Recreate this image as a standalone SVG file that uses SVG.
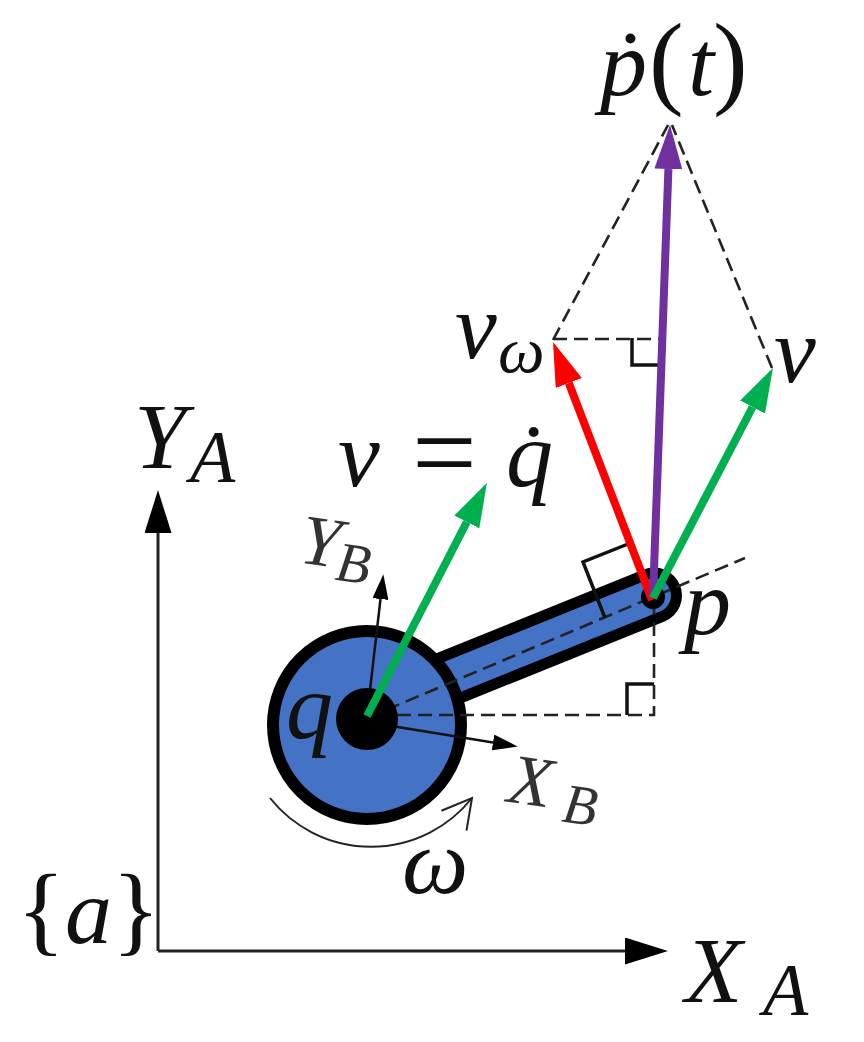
<svg xmlns="http://www.w3.org/2000/svg" width="864" height="1042" viewBox="0 0 864 1042">
<style>
text{font-family:"Liberation Serif","Times New Roman",serif;fill:#111}
.i{font-style:italic}
.big{font-size:94px}
.par{font-size:104px}
.brace{font-size:100px}
.eq{font-size:115px}
.sub{font-size:66px}
.sa{font-size:74px}
.sb{font-size:71px;fill:#333}
.ss{font-size:56px;fill:#333}
.thin{fill:none;stroke:#222;stroke-width:3}
.thinner{fill:none;stroke:#111;stroke-width:2.5}
.dash{fill:none;stroke:#222;stroke-width:2.6;stroke-dasharray:14 7}
.ang{fill:none;stroke:#111;stroke-width:3.5}
.g{stroke:#00B050;stroke-width:8;fill:none}
</style>
<defs>
<marker id="hk" markerUnits="userSpaceOnUse" markerWidth="43" markerHeight="27" viewBox="0 0 43 27" refX="0" refY="13.5" orient="auto"><path d="M0,0L43,13.5L0,27Z" fill="#000"/></marker>
<marker id="hs" markerUnits="userSpaceOnUse" markerWidth="25" markerHeight="16" viewBox="0 0 25 16" refX="0" refY="8" orient="auto"><path d="M0,0L25,8L0,16Z" fill="#000"/></marker>
<marker id="hg" markerUnits="userSpaceOnUse" markerWidth="44" markerHeight="28" viewBox="0 0 44 28" refX="0" refY="14" orient="auto"><path d="M0,0L44,14L0,28Z" fill="#00B050"/></marker>
<marker id="hr" markerUnits="userSpaceOnUse" markerWidth="44" markerHeight="28" viewBox="0 0 44 28" refX="0" refY="14" orient="auto"><path d="M0,0L44,14L0,28Z" fill="#FF0000"/></marker>
<marker id="hp" markerUnits="userSpaceOnUse" markerWidth="44" markerHeight="28" viewBox="0 0 44 28" refX="0" refY="14" orient="auto"><path d="M0,0L44,14L0,28Z" fill="#7030A0"/></marker>
<marker id="ho" markerUnits="userSpaceOnUse" markerWidth="34" markerHeight="40" viewBox="0 0 34 40" refX="31" refY="20" orient="auto"><path d="M2,4L31,20L2,36" fill="none" stroke="#222" stroke-width="2"/></marker>
</defs>
<g id="link">
<line x1="420" y1="690" x2="654" y2="595.5" stroke="#000" stroke-width="56" stroke-linecap="round"/>
<line x1="420" y1="690" x2="654" y2="595.5" stroke="#4472C4" stroke-width="34" stroke-linecap="round"/>
</g>
<g id="disc"><circle cx="367" cy="725" r="94" fill="#4472C4" stroke="#000" stroke-width="12"/></g>
<g id="connectors">
<path class="thin" d="M158,951V533"  marker-end="url(#hk)"/>
<path class="thin" d="M158,951H625" marker-end="url(#hk)"/>
<path class="thinner" d="M367,716L380.5,599" marker-end="url(#hs)"/>
<path class="thinner" d="M367,722L493,742.5" marker-end="url(#hs)"/>
<path class="dash" d="M367,718L745,558"/>
<path class="dash" d="M397,715H654V600"/>
<path class="dash" d="M553,340L668,125M772,368L672,125M553,339H660"/>
<path d="M270,798A129,129 0 0 0 472,798" fill="none" stroke="#222" stroke-width="2" marker-end="url(#ho)"/>
<path class="ang" d="M627,715V684H654"/>
<path class="ang" d="M605,618L583,562L628,544"/>
<path class="ang" d="M632,338V365H658"/>
</g>
<g id="hub"><circle cx="367" cy="719" r="31" fill="#000"/></g>
<g id="pin"><circle cx="653" cy="597" r="12" fill="#000"/></g>
<g id="vectors">
<path d="M652,600L568.8,383" fill="none" stroke="#FF0000" stroke-width="8" marker-end="url(#hr)"/>
<path d="M653,598L668.4,169" fill="none" stroke="#7030A0" stroke-width="8" marker-end="url(#hp)"/>
<path class="g" d="M653,598L752.6,407" marker-end="url(#hg)"/>
<path class="g" d="M367,716L466.8,522" marker-end="url(#hg)"/>
</g>
<g id="label-pdot"><text y="95"><tspan class="big i" x="600">ṗ</tspan><tspan class="par" x="649">(</tspan><tspan class="big i" x="688">t</tspan><tspan class="par" x="713">)</tspan></text></g>
<g id="label-vomega"><text y="358"><tspan class="big i" x="455">v</tspan><tspan class="sub i" x="498" dy="14">ω</tspan></text></g>
<g id="label-v"><text class="big i" x="774" y="382">v</text></g>
<g id="label-vq"><text><tspan class="big i" x="338" y="486">v</tspan><tspan class="eq" x="412" y="491">=</tspan><tspan class="big i" x="506" y="486">q̇</tspan></text></g>
<g id="label-YA"><text y="468"><tspan class="big i" x="134">Y</tspan><tspan class="sa i" x="190" dy="14">A</tspan></text></g>
<g id="label-XA"><text y="1002"><tspan class="big i" x="685">X</tspan><tspan class="sa i" x="763" dy="13">A</tspan></text></g>
<g id="label-YB" transform="rotate(8 303 563)"><text y="563"><tspan class="sb i" x="298">Y</tspan><tspan class="ss i" x="336" dy="12">B</tspan></text></g>
<g id="label-XB" transform="rotate(8 510 802)"><text y="802"><tspan class="sb i" x="506">X</tspan><tspan class="ss i" x="563" dy="12">B</tspan></text></g>
<g id="label-q"><text class="big i" x="286" y="738">q</text></g>
<g id="label-p"><text class="big i" x="684" y="634">p</text></g>
<g id="label-omega"><text class="big i" x="402" y="893">ω</text></g>
<g id="label-a"><text y="943"><tspan class="brace" x="17">{</tspan><tspan class="big i" x="65">a</tspan><tspan class="brace" x="112">}</tspan></text></g>
</svg>
